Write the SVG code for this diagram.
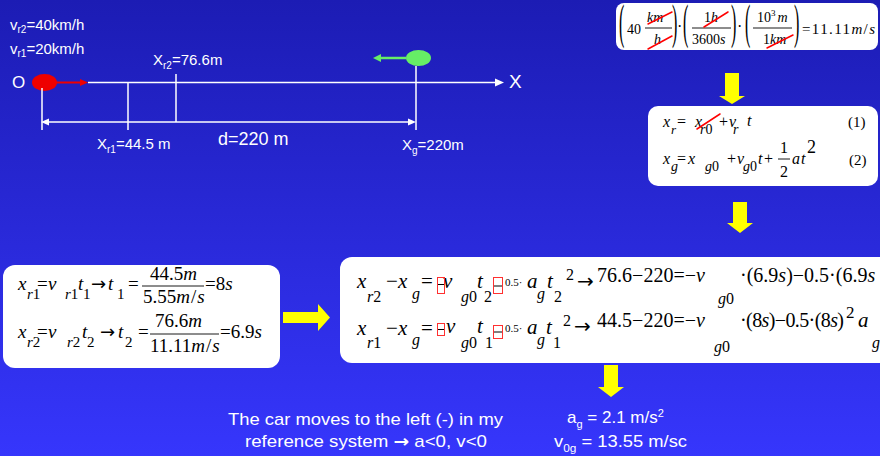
<svg xmlns="http://www.w3.org/2000/svg" width="880" height="456" viewBox="0 0 880 456">
<defs>
<linearGradient id="bg" x1="0" y1="0" x2="0" y2="1">
<stop offset="0" stop-color="#1c1cb4"/>
<stop offset="1" stop-color="#3636fc"/>
</linearGradient>
<style>
.l{font-family:"Liberation Sans",Arial,sans-serif;fill:#fff}
.m{font-family:"Liberation Serif","Times New Roman",serif;fill:#000}
.i{font-style:italic}
.ar{font-family:"DejaVu Sans",sans-serif;font-style:normal}
.box{fill:#fff}
.ya{fill:#ffff00}
.st{stroke:#ff0000;stroke-width:1.5;stroke-linecap:round}
.bar{stroke:#000;stroke-width:0.9}
.wl{stroke:#fff;stroke-width:1.5}
.rb{fill:none;stroke:#ff3030;stroke-width:1}
.mn{stroke:#000;stroke-width:1}
</style>
</defs>
<rect width="880" height="456" fill="url(#bg)"/>

<g id="scene">
<text class="l" x="10" y="30" font-size="15">v<tspan font-size="10" dy="3">r2</tspan><tspan dy="-3">=40km/h</tspan></text>
<text class="l" x="10" y="54" font-size="15">v<tspan font-size="10" dy="3">r1</tspan><tspan dy="-3">=20km/h</tspan></text>
<text class="l" x="12" y="88" font-size="17">O</text>
<line class="wl" x1="88" y1="82.5" x2="497" y2="82.5" stroke-width="2.5"/>
<polygon fill="#fff" points="495,78.5 504,82.5 495,86.5"/>
<text class="l" x="509" y="88" font-size="19">X</text>
<ellipse cx="44.5" cy="82.5" rx="12.5" ry="8.5" fill="#ee0000"/>
<line x1="56" y1="82.5" x2="81" y2="82.5" stroke="#ee0000" stroke-width="2"/>
<polygon fill="#ee0000" points="80,79 88,82.5 80,86"/>
<ellipse cx="418.5" cy="58" rx="12.5" ry="8" fill="#66ee66"/>
<line x1="406" y1="58" x2="380" y2="58" stroke="#66ee66" stroke-width="2.5"/>
<polygon fill="#66ee66" points="373,58 381,54 381,62"/>
<line class="wl" x1="42" y1="88" x2="42" y2="130"/>
<line class="wl" x1="128" y1="83" x2="128" y2="130"/>
<line class="wl" x1="176" y1="74" x2="176" y2="122"/>
<line class="wl" x1="416" y1="66" x2="416" y2="130"/>
<line class="wl" x1="46" y1="122" x2="410" y2="122"/>
<polygon fill="#fff" points="41,122 49,118.5 49,125.5"/>
<polygon fill="#fff" points="416,122 408,118.5 408,125.5"/>
<text class="l" x="153" y="65" font-size="15">X<tspan font-size="10" dy="4">r2</tspan><tspan dy="-4">=76.6m</tspan></text>
<text class="l" x="97" y="149" font-size="15">X<tspan font-size="10" dy="4">r1</tspan><tspan dy="-4">=44.5 m</tspan></text>
<text class="l" x="218" y="145" font-size="18">d=220 m</text>
<text class="l" x="402" y="150" font-size="15">X<tspan font-size="10" dy="4">g</tspan><tspan dy="-4">=220m</tspan></text>
</g>

<g id="box-conversion">
<rect class="box" x="616" y="3" width="262" height="47" rx="8"/>
<text class="m" font-size="20" transform="translate(619,38) scale(0.8,2.4)">(</text>
<text class="m" x="627" y="34" font-size="14">40</text>
<text class="m i" x="647" y="22" font-size="14">km</text>
<line class="bar" x1="645" y1="28" x2="672" y2="28"/>
<text class="m i" x="654" y="44" font-size="14">h</text>
<text class="m" font-size="20" transform="translate(672,38) scale(0.8,2.4)">)</text>
<text class="m" x="677" y="32" font-size="16">·</text>
<text class="m" font-size="20" transform="translate(683,38) scale(0.8,2.4)">(</text>
<text class="m" x="704" y="22" font-size="14">1<tspan class="i">h</tspan></text>
<line class="bar" x1="692" y1="28" x2="731" y2="28"/>
<text class="m" x="692" y="44" font-size="14">3600<tspan class="i">s</tspan></text>
<text class="m" font-size="20" transform="translate(731,38) scale(0.8,2.4)">)</text>
<text class="m" x="737" y="32" font-size="16">·</text>
<text class="m" font-size="20" transform="translate(745,38) scale(0.8,2.4)">(</text>
<text class="m" x="757" y="22" font-size="14">10<tspan font-size="9" dy="-6">3</tspan><tspan class="i" dy="6" dx="2">m</tspan></text>
<line class="bar" x1="753" y1="28" x2="792" y2="28"/>
<text class="m" x="763" y="44" font-size="14">1<tspan class="i">km</tspan></text>
<text class="m" font-size="20" transform="translate(794,38) scale(0.8,2.4)">)</text>
<text class="m" x="802" y="34" font-size="15" textLength="73" lengthAdjust="spacing">=11.11<tspan class="i">m</tspan>/<tspan class="i">s</tspan></text>
<line class="st" x1="648" y1="24" x2="672" y2="12"/>
<line class="st" x1="648" y1="49" x2="672" y2="36"/>
<line class="st" x1="704" y1="27" x2="728" y2="12"/>
<line class="st" x1="767" y1="48" x2="793" y2="35"/>
</g>

<g id="box-equations">
<rect class="box" x="648" y="106" width="230" height="80" rx="10"/>
<g class="m" font-size="16">
<text class="i" x="663" y="127">x</text>
<text class="i" x="671" y="134" font-size="13">r</text>
<text x="677" y="127">=</text>
<text class="i" x="695" y="127">x</text>
<text x="700" y="134" font-size="14"><tspan class="i">r</tspan>0</text>
<text x="719" y="127">+</text>
<text class="i" x="729" y="127">v</text>
<text class="i" x="733" y="134" font-size="14">r</text>
<text class="i" x="747" y="126">t</text>
<text x="848" y="127" font-size="15">(1)</text>
<text class="i" x="663" y="164">x</text>
<text class="i" x="671" y="171" font-size="14">g</text>
<text x="677" y="164">=</text>
<text class="i" x="688" y="164">x</text>
<text x="705" y="171" font-size="14"><tspan class="i">g</tspan>0</text>
<text x="727" y="164">+</text>
<text class="i" x="737" y="164">v</text>
<text x="743" y="171" font-size="14"><tspan class="i">g</tspan>0</text>
<text class="i" x="758" y="164">t</text>
<text x="764" y="164">+</text>
<text x="780" y="153">1</text>
<line class="bar" x1="778" y1="159" x2="790" y2="159"/>
<text x="780" y="177">2</text>
<text class="i" x="792" y="164">a</text>
<text class="i" x="801" y="164">t</text>
<text x="807" y="153" font-size="18">2</text>
<text x="849" y="165" font-size="15">(2)</text>
</g>
<line class="st" x1="697" y1="129" x2="720" y2="114"/>
</g>

<g id="box-times">
<rect class="box" x="3" y="265" width="277" height="103" rx="12"/>
<g class="m" font-size="19">
<text class="i" x="18" y="290">x</text>
<text x="27" y="299" font-size="15"><tspan class="i">r</tspan>1</text>
<text x="37" y="290">=</text>
<text class="i" x="48" y="290">v</text>
<text x="65" y="299" font-size="15"><tspan class="i">r</tspan>1</text>
<text class="i" x="78" y="290">t</text>
<text x="83" y="299" font-size="15">1</text>
<text class="ar" x="91" y="290" font-size="18">→</text>
<text class="i" x="108" y="290">t</text>
<text x="117" y="299" font-size="15">1</text>
<text x="128" y="290">=</text>
<text x="150" y="280">44.5<tspan class="i">m</tspan></text>
<line class="bar" x1="142" y1="286" x2="204" y2="286"/>
<text x="143" y="303">5.55<tspan class="i">m</tspan><tspan dx="1">/</tspan><tspan class="i" dx="1">s</tspan></text>
<text x="205" y="290">=8<tspan class="i">s</tspan></text>
<text class="i" x="18" y="338">x</text>
<text x="27" y="347" font-size="15"><tspan class="i">r</tspan>2</text>
<text x="37" y="338">=</text>
<text class="i" x="48" y="338">v</text>
<text x="67" y="347" font-size="15"><tspan class="i">r</tspan>2</text>
<text class="i" x="82" y="338">t</text>
<text x="87" y="347" font-size="15">2</text>
<text class="ar" x="100" y="338" font-size="18">→</text>
<text class="i" x="118" y="338">t</text>
<text x="125" y="347" font-size="15">2</text>
<text x="138" y="338">=</text>
<text x="155" y="327">76.6<tspan class="i">m</tspan></text>
<line class="bar" x1="150" y1="334" x2="219" y2="334"/>
<text x="150" y="352">11.11<tspan class="i">m</tspan><tspan dx="1">/</tspan><tspan class="i" dx="1">s</tspan></text>
<text x="220" y="338">=6.9<tspan class="i">s</tspan></text>
</g>
</g>

<g id="box-system">
<rect class="box" x="340" y="257" width="560" height="106" rx="12"/>
<g class="m" font-size="21">
<text class="i" x="357" y="288">x</text>
<text x="367" y="302" font-size="16"><tspan class="i">r</tspan>2</text>
<text x="386" y="288">−</text>
<text class="i" x="398" y="288">x</text>
<text class="i" x="412" y="299" font-size="16">g</text>
<text x="421" y="288">=</text>
<text class="i" x="443" y="288">v</text>
<text x="461" y="302" font-size="16"><tspan class="i">g</tspan>0</text>
<text class="i" x="477" y="288">t</text>
<text x="484" y="302" font-size="16">2</text>
<text x="505" y="286" font-size="11">0.5·</text>
<text class="i" x="527" y="288">a</text>
<text class="i" x="537" y="299" font-size="16">g</text>
<text class="i" x="547" y="288">t</text>
<text x="554" y="302" font-size="16">2</text>
<text x="566" y="280" font-size="16">2</text>
<text class="ar" x="577" y="288" font-size="20">→</text>
<text x="597" y="282" font-size="20" textLength="108" lengthAdjust="spacing">76.6−220=−<tspan class="i">v</tspan></text>
<text x="718" y="304" font-size="16"><tspan class="i">g</tspan>0</text>
<text x="740" y="282" font-size="20">·(6.9<tspan class="i">s</tspan>)−0.5·(6.9<tspan class="i">s</tspan></text>
<text class="i" x="357" y="335">x</text>
<text x="367" y="348" font-size="16"><tspan class="i">r</tspan>1</text>
<text x="386" y="335">−</text>
<text class="i" x="398" y="335">x</text>
<text class="i" x="412" y="345" font-size="16">g</text>
<text x="421" y="335">=</text>
<text class="i" x="446" y="333">v</text>
<text x="461" y="348" font-size="16"><tspan class="i">g</tspan>0</text>
<text class="i" x="477" y="333">t</text>
<text x="485" y="348" font-size="16">1</text>
<text x="505" y="332" font-size="11">0.5·</text>
<text class="i" x="527" y="334">a</text>
<text class="i" x="537" y="345" font-size="16">g</text>
<text class="i" x="546" y="334">t</text>
<text x="553" y="348" font-size="16">1</text>
<text x="563" y="326" font-size="16">2</text>
<text class="ar" x="574" y="333" font-size="20">→</text>
<text x="597" y="327" font-size="20" textLength="108" lengthAdjust="spacing">44.5−220=−<tspan class="i">v</tspan></text>
<text x="714" y="352" font-size="16"><tspan class="i">g</tspan>0</text>
<text x="740" y="327" font-size="20" textLength="104" lengthAdjust="spacing">·(8<tspan class="i">s</tspan>)−0.5·(8<tspan class="i">s</tspan>)</text>
<text x="846" y="318" font-size="17">2</text>
<text class="i" x="858" y="327">a</text>
<text class="i" x="872" y="348" font-size="16">g</text>
</g>
<rect class="rb" x="437.5" y="277.5" width="7" height="16"/>
<line class="mn" x1="438" y1="284.5" x2="444" y2="284.5"/>
<rect class="rb" x="493.5" y="277.5" width="9" height="16"/>
<line class="mn" x1="494" y1="286" x2="502" y2="286"/>
<rect class="rb" x="437.5" y="323.5" width="7" height="12"/>
<line class="mn" x1="438" y1="329.5" x2="444" y2="329.5"/>
<rect class="rb" x="493.5" y="325.5" width="9" height="13"/>
<line class="mn" x1="494" y1="332" x2="502" y2="332"/>
</g>

<g id="connectors">
<polygon class="ya" points="725,73 739,73 739,96 745,96 732,104 719,96 725,96"/>
<polygon class="ya" points="733,202 747,202 747,223 753,223 740,233 727,223 733,223"/>
<polygon class="ya" points="283,312 318,312 318,304 330,317.5 318,331 318,323 283,323"/>
<polygon class="ya" points="604,365 618,365 618,387 624,387 611,397 598,387 604,387"/>
</g>

<g id="notes">
<text class="l" x="228" y="425" font-size="17" textLength="275" lengthAdjust="spacingAndGlyphs">The car moves to the left (-) in my</text>
<text class="l" x="245" y="447" font-size="17" textLength="242" lengthAdjust="spacingAndGlyphs">reference system <tspan font-family="DejaVu Sans" font-weight="bold">→</tspan> a&lt;0, v&lt;0</text>
<text class="l" x="567" y="423" font-size="17">a<tspan font-size="11" dy="5">g</tspan><tspan dy="-5"> = 2.1 m/s</tspan><tspan font-size="11" dy="-6">2</tspan></text>
<text class="l" x="554" y="447" font-size="17" textLength="133" lengthAdjust="spacingAndGlyphs">v<tspan font-size="11" dy="5">0g</tspan><tspan dy="-5"> = 13.55 m/sc</tspan></text>
</g>
</svg>
